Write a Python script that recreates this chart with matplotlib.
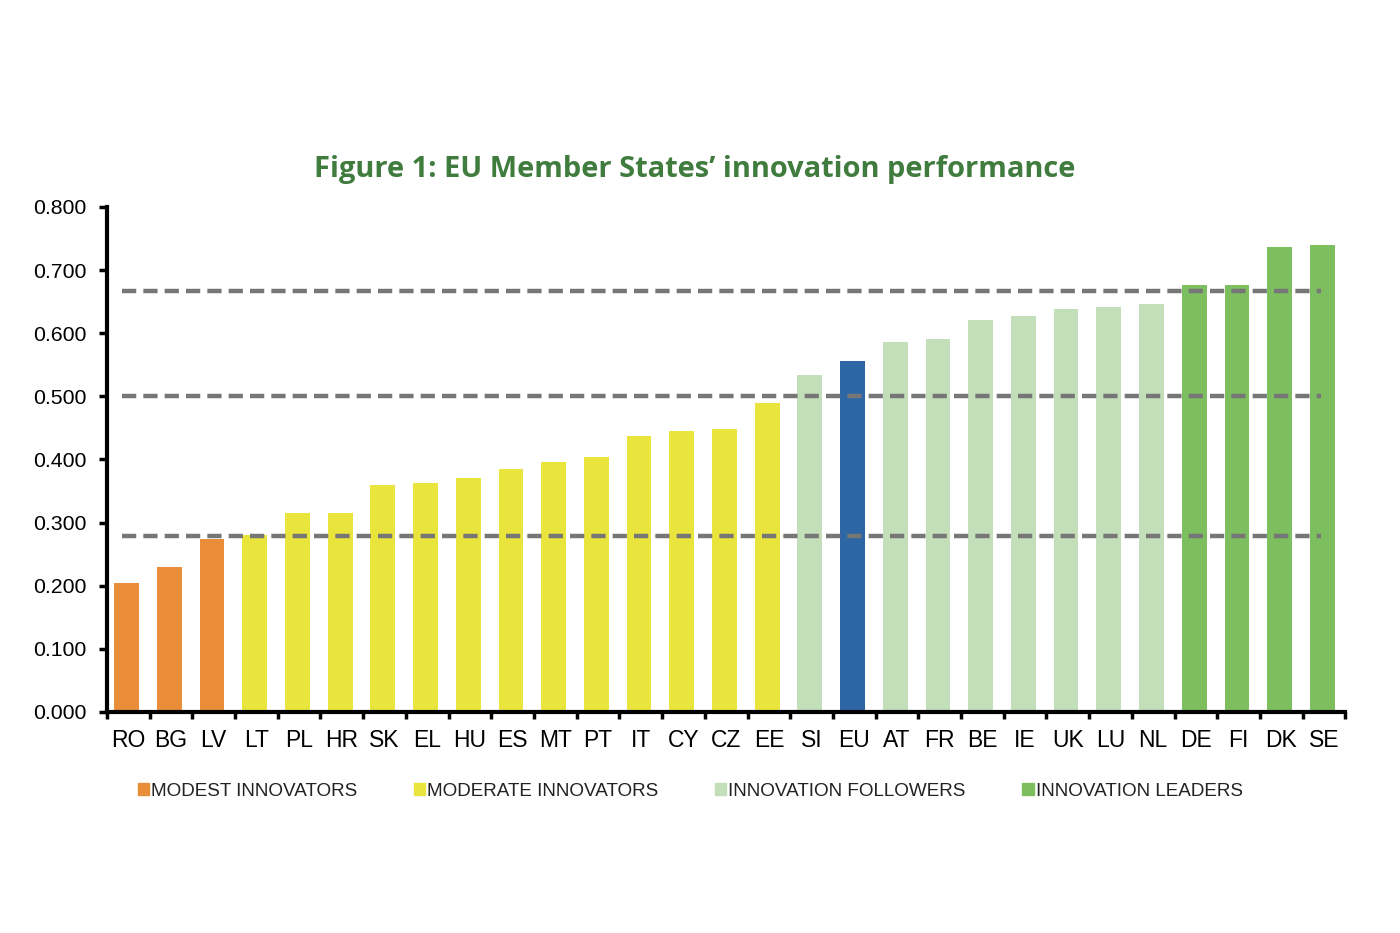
import matplotlib
matplotlib.use("Agg")
import matplotlib.pyplot as plt
from matplotlib.patches import Patch
import numpy as np

COUNTRIES = ['RO', 'BG', 'LV', 'LT', 'PL', 'HR', 'SK', 'EL', 'HU', 'ES', 'MT', 'PT', 'IT', 'CY', 'CZ',
             'EE', 'SI', 'EU', 'AT', 'FR', 'BE', 'IE', 'UK', 'LU', 'NL', 'DE', 'FI', 'DK', 'SE']
SCORES = [0.204, 0.230, 0.274, 0.280, 0.315, 0.315, 0.360, 0.363, 0.371, 0.385, 0.396, 0.404, 0.437, 0.445, 0.448,
          0.490, 0.534, 0.556, 0.586, 0.591, 0.621, 0.628, 0.639, 0.642, 0.647, 0.677, 0.677, 0.737, 0.740]
GROUPS = ['modest'] * 3 + ['moderate'] * 13 + ['follower'] + ['eu'] + ['follower'] * 7 + ['leader'] * 4
THRESHOLDS = [0.667, 0.500, 0.279]

GROUP_LABELS = {
    'modest': 'MODEST INNOVATORS',
    'moderate': 'MODERATE INNOVATORS',
    'follower': 'INNOVATION FOLLOWERS',
    'leader': 'INNOVATION LEADERS',
}
COLORS = {
    'modest': '#EA8D38',
    'moderate': '#EAE53C',
    'follower': '#C3DFBA',
    'leader': '#7DBF5F',
    'eu': '#2D66A5',
}

plt.rcParams['font.family'] = ['Liberation Sans', 'DejaVu Sans']

fig = plt.figure(figsize=(14, 9.33), dpi=100)
ax = fig.add_axes([0.0764, 0.2369, 0.8846, 0.5413])

x = np.arange(len(COUNTRIES))
ax.bar(x - 0.04, SCORES, 0.58, color=[COLORS[g] for g in GROUPS], zorder=2)

for t in THRESHOLDS:
    ax.hlines(t, -0.15, 27.92, colors='#767676', linestyles=(0, (3.2, 1.6)), linewidth=3.2, zorder=3)

ax.set_xlim(-0.5, len(COUNTRIES) - 0.5)
ax.set_ylim(0, 0.8)
ax.set_yticks(np.arange(0, 0.81, 0.1))
ax.set_yticklabels(['%.3f' % v for v in np.arange(0, 0.81, 0.1)], fontsize=15.3)

ax.set_xticks(x)
ax.set_xticklabels(COUNTRIES, fontsize=16.5)
ax.tick_params(axis='x', length=0, pad=12)
ax.set_xticks(np.arange(-0.5, len(COUNTRIES), 1), minor=True)
ax.tick_params(axis='x', which='minor', length=5, width=2.5, direction='out')
ax.tick_params(axis='y', length=6, width=2.5, pad=9)

for s in ('top', 'right'):
    ax.spines[s].set_visible(False)
for s in ('left', 'bottom'):
    ax.spines[s].set_linewidth(3)
    ax.spines[s].set_color('black')

fig.text(0.496, 0.818, 'Figure 1: EU Member States\u2019 innovation performance', ha='center', va='center',
         fontsize=20.9, fontweight='bold', color='#3F7C3D', family=['Open Sans', 'DejaVu Sans'])

handles = [Patch(color=COLORS[g], label=GROUP_LABELS[g]) for g in ('modest', 'moderate', 'follower', 'leader')]
leg = fig.legend(handles=handles, loc='center', bbox_to_anchor=(0.493, 0.152), ncol=4, frameon=False,
                 fontsize=13.6, handlelength=0.6, handleheight=0.6, handletextpad=0.1, columnspacing=3.0)
for t in leg.get_texts():
    t.set_color('#222222')

fig.savefig('out.png', dpi=100)
